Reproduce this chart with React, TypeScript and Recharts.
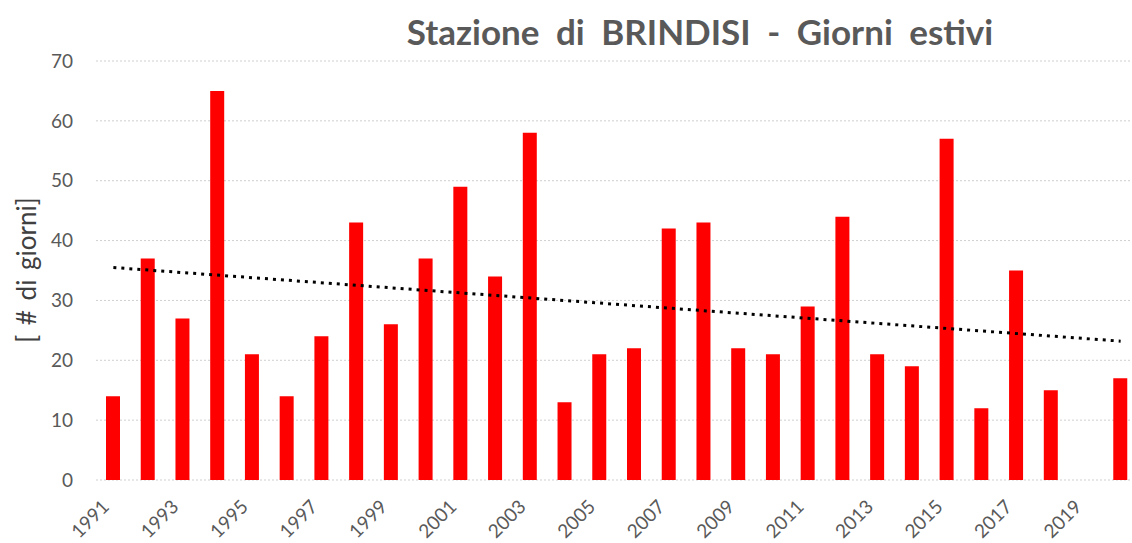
import { BarChart, Bar, XAxis, YAxis, CartesianGrid, ReferenceLine } from "recharts";

const years = [
  "1991", "1992", "1993", "1994", "1995", "1996", "1997", "1998", "1999", "2000",
  "2001", "2002", "2003", "2004", "2005", "2006", "2007", "2008", "2009", "2010",
  "2011", "2012", "2013", "2014", "2015", "2016", "2017", "2018", "2019", "2020",
];
const giorniEstivi = [
  14, 37, 27, 65, 21, 14, 24, 43, 26, 37,
  49, 34, 58, 13, 21, 22, 42, 43, 22, 21,
  29, 44, 21, 19, 57, 12, 35, 15, null, 17,
];
const yTicks = [0, 10, 20, 30, 40, 50, 60, 70];
// trend line ends
const trendStart = 35.5;
const trendEnd = 23.2;

const data = years.map((year, i) => ({ year, value: giorniEstivi[i] }));

const FONT = "Lato, 'Open Sans', sans-serif";

function YearTick({ x, y, payload, index }: any) {
  if (index % 2 !== 0) return null;
  const ax = x - 3;
  const ay = y + 20;
  return (
    <text
      x={ax}
      y={ay}
      transform={`rotate(-45, ${ax}, ${ay})`}
      textAnchor="end"
      fill="#595959"
      fontSize={19}
      fontFamily={FONT}
    >
      {payload.value}
    </text>
  );
}

export default function App() {
  return (
    <div
      style={{
        position: "absolute",
        left: 0,
        top: 0,
        width: 1132,
        height: 543,
        overflow: "hidden",
        background: "#fff",
      }}
    >
      <div
        style={{
          position: "absolute",
          left: 0,
          top: 10,
          width: 1400,
          textAlign: "center",
          fontFamily: FONT,
          fontWeight: 700,
          fontSize: 35,
          wordSpacing: 8,
          color: "#595959",
          whiteSpace: "nowrap",
        }}
      >
        Stazione di BRINDISI - Giorni estivi
      </div>
      <div
        style={{
          position: "absolute",
          left: 26,
          top: 270,
          transform: "translate(-50%, -50%) rotate(-90deg)",
          fontFamily: FONT,
          fontSize: 26,
          wordSpacing: 3,
          color: "#404040",
          whiteSpace: "nowrap",
        }}
      >
        [ # di giorni]
      </div>
      <div style={{ position: "absolute", left: 0, top: 0 }}>
        <BarChart
          width={1142}
          height={543}
          data={data}
          margin={{ top: 61, right: 4, bottom: 3, left: 20 }}
        >
          <CartesianGrid vertical={false} stroke="#cfcfcf" strokeDasharray="2 2" />
          <XAxis
            dataKey="year"
            axisLine={false}
            tickLine={false}
            interval={0}
            height={60}
            tick={<YearTick />}
          />
          <YAxis
            width={76}
            domain={[0, 70]}
            ticks={yTicks}
            axisLine={false}
            tickLine={false}
            tickSize={0}
            tickMargin={23}
            tick={{ fill: "#595959", fontSize: 19, fontFamily: FONT }}
          />
          <Bar dataKey="value" fill="#ff0000" barSize={14} isAnimationActive={false} />
          <ReferenceLine
            segment={[
              { x: "1991", y: trendStart },
              { x: "2020", y: trendEnd },
            ]}
            stroke="#000"
            strokeWidth={3}
            strokeDasharray="3 5"
          />
        </BarChart>
      </div>
    </div>
  );
}
